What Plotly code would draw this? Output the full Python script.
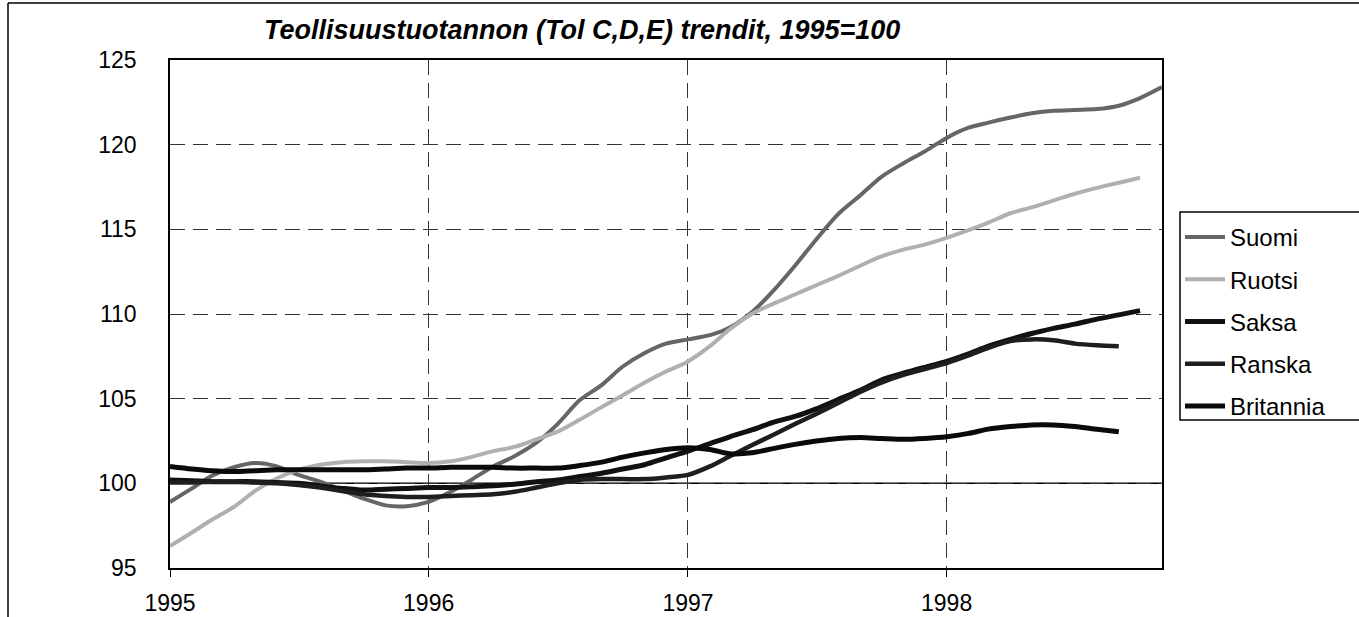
import pandas as pd
import plotly.graph_objects as go

# ---- data (monthly trend values, 1995=100) ----
months = pd.date_range("1995-01-01", periods=47, freq="MS")

suomi = [98.9, 99.7, 100.45, 100.95, 101.2, 101.0, 100.5, 100.1, 99.6, 99.1, 98.7, 98.65,
         98.9, 99.5, 100.2, 101.0, 101.6, 102.4, 103.5, 104.9, 105.8, 106.9, 107.7, 108.25,
         108.5, 108.75, 109.2, 110.1, 111.35, 112.85, 114.4, 115.9, 117.0, 118.1, 118.9, 119.6,
         120.4, 121.0, 121.3, 121.6, 121.85, 122.0, 122.05, 122.1, 122.3, 122.75, 123.4]

ruotsi = [96.3, 97.1, 97.85, 98.6, 99.55, 100.3, 100.8, 101.1, 101.25, 101.3, 101.3, 101.25,
          101.2, 101.3, 101.55, 101.9, 102.15, 102.6, 103.05, 103.75, 104.5, 105.2, 105.95, 106.6,
          107.2, 108.1, 109.1, 110.0, 110.6, 111.15, 111.7, 112.25, 112.85, 113.4, 113.8, 114.1,
          114.5, 114.95, 115.4, 115.95, 116.3, 116.7, 117.1, 117.45, 117.75, 118.05]

saksa = [100.2, 100.15, 100.1, 100.1, 100.1, 100.05, 100.0, 99.85, 99.7, 99.6, 99.65, 99.7,
         99.75, 99.75, 99.8, 99.85, 99.95, 100.1, 100.2, 100.4, 100.6, 100.85, 101.1, 101.5,
         101.9, 102.35, 102.75, 103.15, 103.6, 103.95, 104.4, 104.95, 105.5, 106.1, 106.5, 106.85,
         107.2, 107.65, 108.1, 108.5, 108.85, 109.15, 109.4, 109.7, 109.95, 110.2]

ranska = [100.05, 100.05, 100.1, 100.1, 100.05, 100.0, 99.9, 99.75, 99.55, 99.35, 99.25, 99.2,
          99.2, 99.25, 99.3, 99.35, 99.5, 99.75, 100.0, 100.2, 100.25, 100.25, 100.25, 100.35,
          100.5, 101.0, 101.6, 102.25, 102.85, 103.5, 104.1, 104.75, 105.4, 105.95, 106.4, 106.75,
          107.1, 107.55, 108.0, 108.4, 108.5, 108.45, 108.25, 108.15, 108.1]

britannia = [101.0, 100.85, 100.75, 100.7, 100.75, 100.8, 100.8, 100.8, 100.8, 100.8, 100.85, 100.9,
             100.9, 100.95, 100.95, 100.95, 100.9, 100.9, 100.9, 101.05, 101.25, 101.55, 101.8, 102.0,
             102.1, 102.0, 101.75, 101.8, 102.05, 102.3, 102.5, 102.65, 102.7, 102.65, 102.6, 102.65,
             102.75, 102.95, 103.2, 103.35, 103.45, 103.45, 103.35, 103.2, 103.05]

series_names = ["Suomi", "Ruotsi", "Saksa", "Ranska", "Britannia"]
series_values = [suomi, ruotsi, saksa, ranska, britannia]
series_colors = ["#666666", "#b0b0b0", "#111111", "#1e1e1e", "#0a0a0a"]
series_widths = [4, 4, 5, 4.5, 5]

year_ticks = ["1995-01-01", "1996-01-01", "1997-01-01", "1998-01-01"]
year_labels = ["1995", "1996", "1997", "1998"]
y_ticks = [95, 100, 105, 110, 115, 120, 125]

title_text = "Teollisuustuotannon (Tol C,D,E) trendit, 1995=100"

# ---- figure ----
fig = go.Figure()
for i, (name, vals, col, w) in enumerate(zip(series_names, series_values, series_colors, series_widths)):
    fig.add_trace(go.Scatter(
        x=months[:len(vals)], y=vals, name=name, mode="lines",
        line=dict(color=col, width=w, shape="spline", smoothing=0.8),
        legendgroup=f"g{i}",
    ))

W, H = 1359, 617
L, R, T, B = 170, 1162, 60, 568

def px_x(p):
    return (p - L) / (R - L)

def px_y(p):
    return (B - p) / (B - T)

fig.update_layout(
    width=W, height=H,
    margin=dict(l=L, r=W - R, t=T, b=H - B, autoexpand=False),
    paper_bgcolor="white", plot_bgcolor="white",
    font=dict(family="Liberation Sans, Arial, Helvetica, sans-serif", color="black", size=23),
    showlegend=True,
    legend=dict(
        x=px_x(1180), y=px_y(215), xanchor="left", yanchor="top",
        borderwidth=0, bgcolor="rgba(0,0,0,0)",
        font=dict(size=24, family="Liberation Sans, Arial, sans-serif"),
        itemwidth=40, tracegroupgap=8,
        traceorder="grouped",
    ),
    xaxis=dict(
        type="date",
        range=["1995-01-01", "1998-11-01"],
        tickvals=year_ticks, ticktext=year_labels,
        showgrid=True, gridcolor="#333333", gridwidth=1, griddash="15px,8px",
        showline=True, linecolor="black", linewidth=1.5, mirror=True,
        ticks="outside", ticklen=7, tickcolor="black",
        ticklabelstandoff=7, automargin=False,
        zeroline=False,
    ),
    yaxis=dict(
        range=[95, 125],
        tickvals=y_ticks,
        showgrid=True, gridcolor="#333333", gridwidth=1, griddash="15px,8px",
        showline=True, linecolor="black", linewidth=1.5, mirror=True,
        ticks="", ticklabelstandoff=27, automargin=False,
        zeroline=False,
    ),
    shapes=[
        # solid reference line at 100
        dict(type="line", xref="paper", yref="y", x0=0, x1=1, y0=100, y1=100,
             line=dict(color="black", width=1.5), layer="below"),
        # outer chart border
        dict(type="line", xref="paper", yref="paper", x0=px_x(8), x1=px_x(8), y0=px_y(3), y1=px_y(640),
             line=dict(color="black", width=1.5)),
        dict(type="line", xref="paper", yref="paper", x0=px_x(8), x1=px_x(1365), y0=px_y(3), y1=px_y(3),
             line=dict(color="black", width=1.5)),
        # legend frame
        dict(type="rect", xref="paper", yref="paper", x0=px_x(1180), x1=px_x(1375), y0=px_y(212), y1=px_y(420),
             line=dict(color="black", width=1.5), fillcolor="rgba(0,0,0,0)"),
    ],
    annotations=[
        dict(text=f"<b><i>{title_text}</i></b>", xref="paper", yref="paper",
             x=px_x(582), y=px_y(30), xanchor="center", yanchor="middle", showarrow=False,
             font=dict(size=27, family="Liberation Sans Narrow, Arial Narrow, Liberation Sans, sans-serif")),
    ],
)

fig.write_html("out.html", config={"displayModeBar": False},
               post_script="document.body.style.margin='0';document.body.style.padding='0';")
